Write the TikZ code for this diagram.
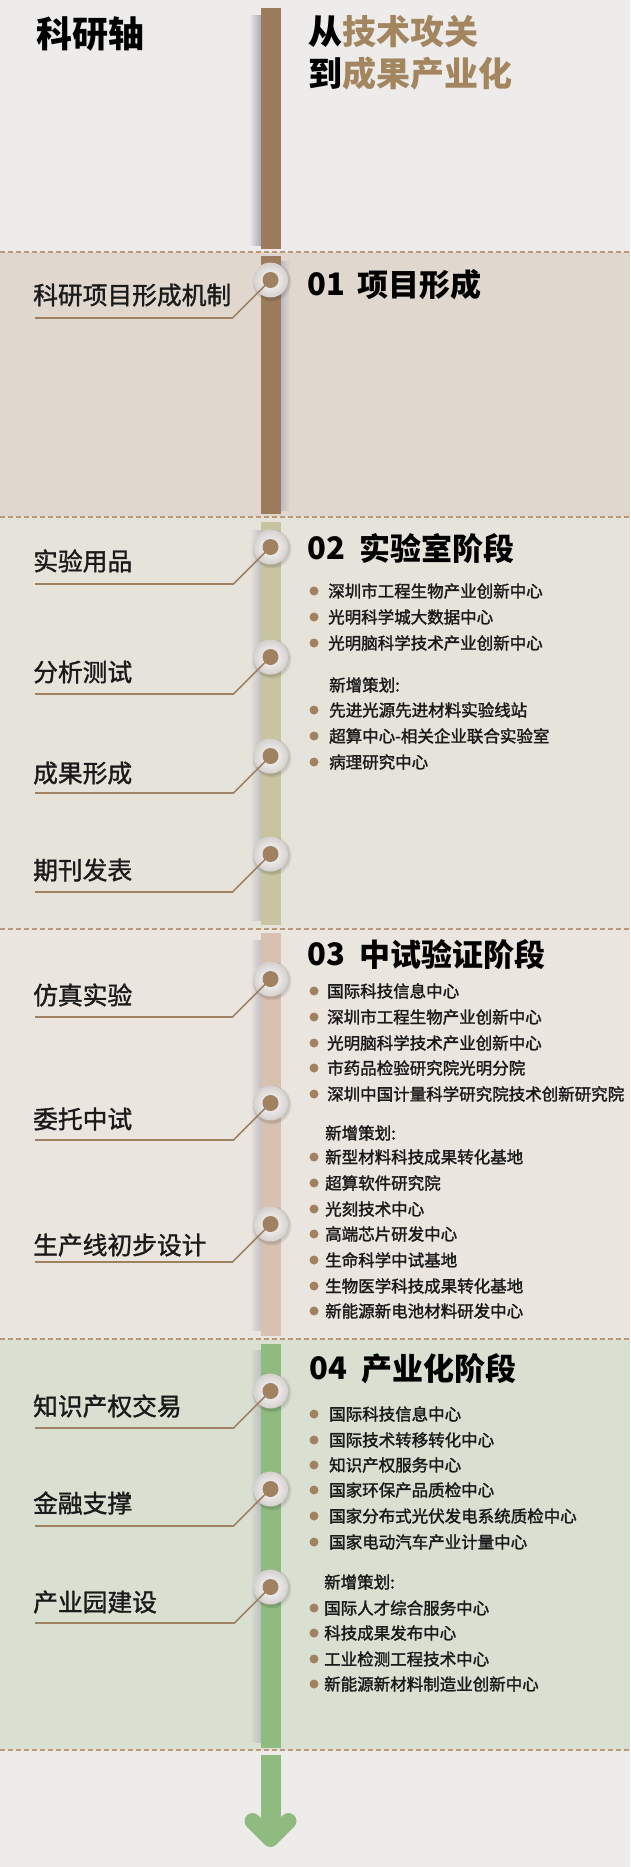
\documentclass[tikz,border=0pt]{standalone}
\usepackage{fontspec}
\setmainfont{Noto Sans CJK SC}
\newfontfamily\lblfont{Noto Sans CJK SC}[FakeBold=1.3]
\newfontfamily\itemfont{Noto Sans CJK SC}[FakeBold=1.8]
\definecolor{bgtop}{HTML}{EDECEA}
\definecolor{bgone}{HTML}{E0D8CE}
\definecolor{bgtwo}{HTML}{E6E3DA}
\definecolor{bgthree}{HTML}{EAE5DE}
\definecolor{bgfour}{HTML}{DAE0D1}
\definecolor{barbrown}{HTML}{9C7C5C}
\definecolor{barkhaki}{HTML}{C8C3A1}
\definecolor{barpink}{HTML}{D8C1B1}
\definecolor{bargreen}{HTML}{8FBA80}
\definecolor{accent}{HTML}{A3865F}
\definecolor{dotc}{HTML}{A08262}
\definecolor{dashc}{HTML}{B89878}
\definecolor{shadowc}{HTML}{A9A7B5}
\definecolor{diskrim}{HTML}{D4D0CE}
\definecolor{inkc}{HTML}{1A1A1A}
\tikzset{
  disk/.style={circle,minimum size=35pt,inner sep=0pt,inner color=white,outer color=diskrim},
  dotn/.style={circle,minimum size=16pt,inner sep=0pt,fill=dotc},
  conn/.style={draw=dotc,line width=1.6pt},
  lbl/.style={anchor=west,inner sep=0pt,text=inkc,font=\lblfont\fontsize{24.75}{30}\selectfont},
  hnum/.style={anchor=west,inner sep=0pt,text=black,font=\fontsize{31}{36}\selectfont\bfseries},
  bdot/.style={circle,minimum size=9pt,inner sep=0pt,fill=dotc},
  btext/.style={anchor=west,inner sep=0pt,text=inkc,font=\itemfont\fontsize{16.5}{20}\selectfont},
  sepline/.style={draw=dashc,line width=1.3pt,dash pattern=on 5pt off 3pt},
  ttl/.style={anchor=west,inner sep=0pt,font=\fontsize{34}{40}\selectfont\bfseries}
}
\newcommand\mstone[5]{%
  \fill[black,opacity=0.07] (272,#2+2) circle (19.5);
  \fill[black,opacity=0.07] (271.5,#2+1.5) circle (18.5);
  \node[disk] (#1) at (270.5,#2) {};
  \coordinate (#1k) at ({270.5-(#3-#2)},#3);
  \coordinate (#1e) at (35,#3);
  \draw[conn] (#1.center) -- (#1k) -- (#1e);
  \node[dotn] (#1d) at (#1.center) {};
  \node[lbl] (#1t) at (33,#4) {#5};
}
\newcommand\bitem[4]{%
  \node[bdot] (#1) at (314,#3) {};
  \node[btext] (#1t) at (#2,#3) {#4};
}
\begin{document}
\begin{tikzpicture}[x=1pt,y=-1pt]
\useasboundingbox (0,0) rectangle (630,1867);
% backgrounds
\fill[bgtop] (0,0) rectangle (630,252);
\fill[bgone] (0,252) rectangle (630,517);
\fill[bgtwo] (0,517) rectangle (630,929);
\fill[bgthree] (0,929) rectangle (630,1339);
\fill[bgfour] (0,1339) rectangle (630,1750);
\fill[bgtop] (0,1750) rectangle (630,1867);
% bar shadows
\shade[left color=bgtop,right color=shadowc] (249,16) rectangle (261,246);
\shade[left color=shadowc!70!bgone,right color=bgone] (280,262) rectangle (290,510);
\shade[left color=bgtwo,right color=shadowc!60!bgtwo] (250,530) rectangle (261,920);
\shade[left color=bgthree,right color=shadowc!60!bgthree] (250,940) rectangle (261,1330);
\shade[left color=bgfour,right color=shadowc!60!bgfour] (250,1350) rectangle (261,1742);
% bars
\fill[barbrown] (260.5,8) rectangle (280.5,249);
\fill[barbrown] (260.5,256) rectangle (280.5,514);
\fill[barkhaki] (260.5,522) rectangle (280.5,925);
\fill[barpink] (260.5,933) rectangle (280.5,1336);
\fill[bargreen] (260.5,1344) rectangle (280.5,1748);
\fill[bargreen] (260.5,1755) rectangle (280.5,1835);
\draw[bargreen,line width=16pt,line join=round,line cap=round] (252.5,1821) -- (270.5,1839) -- (288.5,1821);
% separators
\foreach \yy in {252,517,929,1339,1750} \draw[sepline] (0,\yy) -- (630,\yy);
% titles
\node[ttl,font=\fontsize{36}{40}\selectfont\bfseries] (title) at (36.5,33.5) {科研轴};
\node[ttl] (sub1) at (308.5,32) {从\textcolor{accent}{技术攻关}};
\node[ttl] (sub2) at (308.5,74) {到\textcolor{accent}{成果产业化}};
% headers
\node[hnum] (h1n) at (307.5,284.5) {01}; \node[hnum] (h1t) at (357,284.5) {项目形成};
\node[hnum] (h2n) at (307.5,548.5) {02}; \node[hnum] (h2t) at (359,548.5) {实验室阶段};
\node[hnum] (h3n) at (307.5,954.5) {03}; \node[hnum] (h3t) at (359,954.5) {中试验证阶段};
\node[hnum] (h4n) at (309.5,1368.5) {04}; \node[hnum] (h4t) at (361,1368.5) {产业化阶段};
% milestones
\mstone{m11}{280}{318}{295}{科研项目形成机制}
\mstone{m21}{547}{584}{561}{实验用品}
\mstone{m22}{657}{694}{672}{分析测试}
\mstone{m23}{756}{793}{773}{成果形成}
\mstone{m24}{854}{892}{870}{期刊发表}
\mstone{m31}{979}{1017}{995}{仿真实验}
\mstone{m32}{1103}{1140}{1119}{委托中试}
\mstone{m33}{1224}{1262}{1245}{生产线初步设计}
\mstone{m41}{1391}{1428}{1406}{知识产权交易}
\mstone{m42}{1489}{1526}{1503}{金融支撑}
\mstone{m43}{1587}{1623}{1602}{产业园建设}
% section 2 list
\bitem{b21}{328}{591}{深圳市工程生物产业创新中心}
\bitem{b22}{328}{617}{光明科学城大数据中心}
\bitem{b23}{328}{643}{光明脑科学技术产业创新中心}
\node[btext] (n2) at (329,685) {新增策划:};
\bitem{b24}{329}{710}{先进光源先进材料实验线站}
\bitem{b25}{329}{736}{超算中心-相关企业联合实验室}
\bitem{b26}{329}{762}{病理研究中心}
% section 3 list
\bitem{b31}{327}{991}{国际科技信息中心}
\bitem{b32}{327}{1017}{深圳市工程生物产业创新中心}
\bitem{b33}{327}{1043}{光明脑科学技术产业创新中心}
\bitem{b34}{327}{1068}{市药品检验研究院光明分院}
\bitem{b35}{327}{1094}{深圳中国计量科学研究院技术创新研究院}
\node[btext] (n3) at (325,1133) {新增策划:};
\bitem{b36}{325}{1157}{新型材料科技成果转化基地}
\bitem{b37}{325}{1183}{超算软件研究院}
\bitem{b38}{325}{1209}{光刻技术中心}
\bitem{b39}{325}{1234}{高端芯片研发中心}
\bitem{b3a}{325}{1260}{生命科学中试基地}
\bitem{b3b}{325}{1286}{生物医学科技成果转化基地}
\bitem{b3c}{325}{1311}{新能源新电池材料研发中心}
% section 4 list
\bitem{b41}{329}{1414}{国际科技信息中心}
\bitem{b42}{329}{1440}{国际技术转移转化中心}
\bitem{b43}{329}{1465}{知识产权服务中心}
\bitem{b44}{329}{1490}{国家环保产品质检中心}
\bitem{b45}{329}{1516}{国家分布式光伏发电系统质检中心}
\bitem{b46}{329}{1542}{国家电动汽车产业计量中心}
\node[btext] (n4) at (324,1582) {新增策划:};
\bitem{b47}{324}{1608}{国际人才综合服务中心}
\bitem{b48}{324}{1633}{科技成果发布中心}
\bitem{b49}{324}{1659}{工业检测工程技术中心}
\bitem{b4a}{324}{1684}{新能源新材料制造业创新中心}
\end{tikzpicture}
\end{document}
